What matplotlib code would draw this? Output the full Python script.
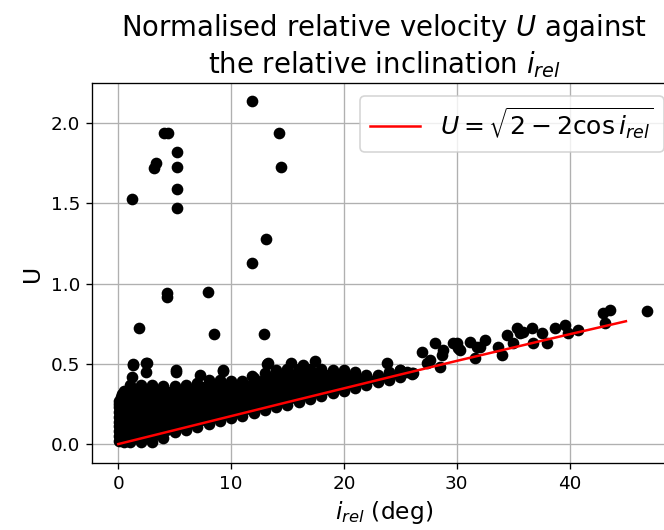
import numpy as np
import matplotlib
matplotlib.use("Agg")
import matplotlib.pyplot as plt

# dense part of the cloud (envelope)
band_x = [0.05, 0.5, 1, 2, 3, 4, 5, 6, 7, 8, 9, 10, 11, 12, 13,
          14, 15, 16, 17, 18, 19, 20, 21, 22, 23, 24, 25, 26]
band_hi = [0.27, 0.33, 0.37, 0.37, 0.37, 0.36, 0.36, 0.37, 0.38, 0.40, 0.40, 0.39, 0.39, 0.41,
           0.44, 0.46, 0.47, 0.47, 0.47, 0.47, 0.46, 0.46, 0.45, 0.43, 0.43, 0.45, 0.46, 0.44]
band_lo = [0.02, 0.01, 0.01, 0.01, 0.015, 0.04, 0.072, 0.09, 0.107, 0.125, 0.142, 0.16, 0.177, 0.194,
           0.211, 0.228, 0.246, 0.263, 0.28, 0.298, 0.315, 0.33, 0.35, 0.367, 0.385, 0.40, 0.42, 0.435]
left_x = [0.05, 0.05, 0.05, 0.05, 0.05, 0.05, 0.05, 0.05, 0.2, 0.35]
left_u = [0.05, 0.08, 0.11, 0.14, 0.17, 0.20, 0.23, 0.25, 0.29, 0.31]

# single points (bumps above the cloud, sparse tail, outliers)
pts_x = [1.18, 1.33, 2.52, 2.5, 5.13, 7.25, 9.26, 11.85, 13.2, 15.3, 16.4, 17.43, 23.79,
         24.97, 25.57, 26.15, 26.9, 28.08, 27.63, 27.34, 28.52, 28.67, 28.81, 29.7, 30.0,
         30.14, 30.29, 31.18, 31.62, 31.77, 32.51, 32.07, 33.69, 33.99, 34.43, 35.32, 35.9,
         35.02, 35.61, 36.65, 37.54, 36.79, 37.98, 38.71, 39.6, 39.89, 40.78, 43.0, 43.59,
         43.15, 46.84,
         11.83, 4.05, 4.41, 14.27, 5.23, 3.34, 3.17, 5.23, 14.42, 5.23, 1.21, 5.23, 13.07,
         11.83, 4.29, 4.29, 7.98, 1.86, 8.48, 12.92, 1.28, 2.46, 5.12, 9.26, 13.3]
pts_u = [0.42, 0.498, 0.507, 0.45, 0.45, 0.43, 0.457, 0.424, 0.50, 0.503, 0.49, 0.517, 0.503,
         0.461, 0.45, 0.44, 0.575, 0.631, 0.523, 0.503, 0.482, 0.555, 0.586, 0.627, 0.627,
         0.596, 0.586, 0.637, 0.534, 0.606, 0.648, 0.606, 0.606, 0.555, 0.679, 0.721, 0.70,
         0.627, 0.69, 0.721, 0.69, 0.627, 0.627, 0.721, 0.741, 0.69, 0.71, 0.814, 0.835,
         0.752, 0.83,
         2.139, 1.936, 1.936, 1.936, 1.819, 1.753, 1.718, 1.728, 1.728, 1.591, 1.526, 1.469, 1.275,
         1.128, 0.939, 0.918, 0.949, 0.725, 0.683, 0.683, 0.492, 0.507, 0.461, 0.461, 0.503]

# theoretical curve U = sqrt(2 - 2 cos i)
curve_i = [0, 5, 10, 15, 20, 25, 30, 35, 40, 45]
curve_u = [0.0, 0.087, 0.174, 0.261, 0.347, 0.433, 0.518, 0.601, 0.684, 0.765]

fig = plt.figure(figsize=(664 / 120, 530 / 120), dpi=120)
ax = fig.add_axes([92 / 664, 67 / 530, 584 / 664, 380 / 530])
ax.set_axisbelow(True)

ax.fill_between(band_x, band_lo, band_hi, color="black", lw=0)
ax.scatter(band_x, band_hi, color="black", s=36)
ax.scatter(band_x, band_lo, color="black", s=36)
ax.scatter(left_x, left_u, color="black", s=36)
ax.scatter(pts_x, pts_u, color="black", s=36)
ax.plot(curve_i, curve_u, color="red", label=r"$U=\sqrt{2-2\cos i_{rel}}$")

ax.set_xlim(-2.33, 49.44)
ax.set_ylim(-0.118, 2.249)
ax.set_xticks([0, 10, 20, 30, 40])
ax.grid(True)
ax.set_xlabel(r"$i_{rel}$ (deg)", fontsize=14)
ax.set_ylabel("U", fontsize=14)
ax.set_title("Normalised relative velocity $U$ against\nthe relative inclination $i_{rel}$", fontsize=16.5)
ax.legend(loc="upper right", fontsize=15)
ax.tick_params(labelsize=11)

plt.savefig("out.png")
